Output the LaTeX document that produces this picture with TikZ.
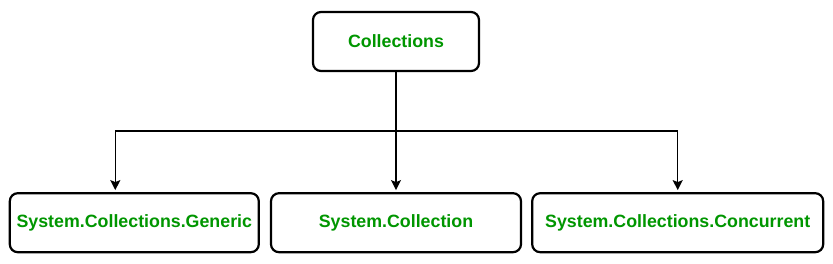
\documentclass[tikz,border=0pt]{standalone}
\usepackage{fontspec}
\setmainfont{Liberation Sans}
\usetikzlibrary{arrows.meta, positioning}
\definecolor{nsgreen}{RGB}{0,150,0}

\begin{document}
\begin{tikzpicture}[
  x=1pt, y=1pt,
  node distance=120pt and 10pt,
  every node/.style={font=\fontsize{17.8}{20}\selectfont\bfseries},
  box/.style={rectangle, draw, line width=2.2pt, rounded corners=8pt, minimum height=59pt, align=center, fill=white, text=nsgreen},
  arr/.style={-{Stealth[length=10pt, width=10pt, inset=2pt]}, line width=1.5pt, shorten >=2pt}
]
\useasboundingbox (0,0) rectangle (833,-263);

% Nodes
\node[box, minimum width=166pt] (root) at (396,-41.5) {Collections};
\node[box, minimum width=250pt, below=of root] (sys) {System.Collection};
\node[box, minimum width=249pt, left=of sys] (gen) {System.Collections.Generic};
\node[box, minimum width=291pt, right=9pt of sys] (conc) {System.Collections.Concurrent};

% Edges
\coordinate (bar) at (0,-131);
\draw[arr] (root.south) -- (sys.north);
\draw[arr] (root.south |- bar) -| ([xshift=-19pt]gen.north);
\draw[arr] (root.south |- bar) -| (conc.north);

\end{tikzpicture}
\end{document}
